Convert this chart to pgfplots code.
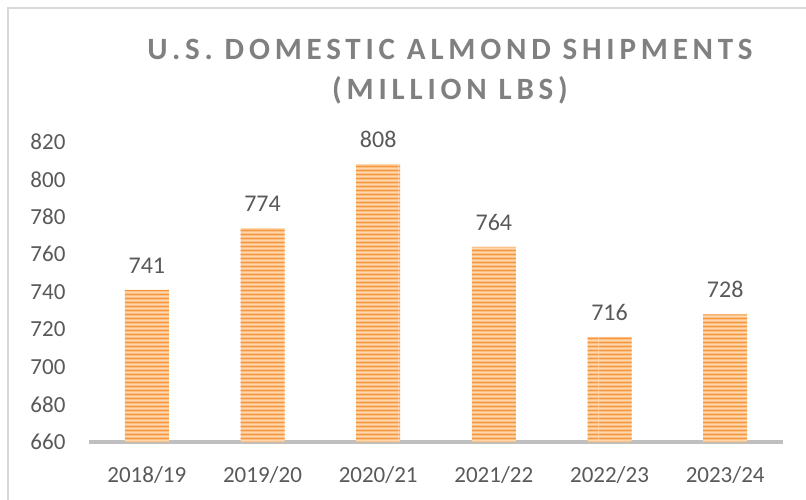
\documentclass[border=0pt]{standalone}
\usepackage{fontspec}
\setmainfont{Carlito}
\usepackage{pgfplots}
\pgfplotsset{compat=1.18}
\usetikzlibrary{patterns}
\pgfdeclarepatternformonly{hstripes}{\pgfpointorigin}{\pgfpoint{200pt}{4pt}}{\pgfpoint{200pt}{4pt}}{%
  \pgfpathrectangle{\pgfpoint{0pt}{0.9pt}}{\pgfpoint{200pt}{2.2pt}}\pgfusepath{fill}}
\definecolor{barDark}{HTML}{F7963B}
\definecolor{barLight}{HTML}{FCD7B0}
\definecolor{txt}{HTML}{595959}
\definecolor{ttl}{HTML}{808080}
\definecolor{axgray}{HTML}{BFBFBF}
\definecolor{frame}{HTML}{D9D9D9}
\begin{document}
\begin{tikzpicture}
\useasboundingbox (0,0) rectangle (806pt,499pt);
\draw[frame, line width=1.5pt] (8pt,-5pt) -- (8pt,491pt) -- (815pt,491pt);
\begin{axis}[
  at={(89pt,57pt)}, anchor=south west,
  scale only axis, width=694pt, height=300.3pt,
  xmin=-0.5, xmax=5.5, ymin=660, ymax=820,
  xtick=data,
  xticklabels={2018/19,2019/20,2020/21,2021/22,2022/23,2023/24},
  ytick={660,680,...,820},
  axis x line*=bottom, axis y line*=left,
  x axis line style={-, draw=axgray, line width=3.3pt},
  y axis line style={draw=none},
  major tick length=0pt,
  tick label style={font=\fontsize{23}{26}\selectfont, text=txt},
  /pgf/number format/assume math mode=true,
  yticklabel style={anchor=east, xshift=-20pt},
  xticklabel style={yshift=-21pt},
  clip=false,
  title={U.S. DOMESTIC ALMOND SHIPMENTS\\(MILLION LBS)},
  title style={at={(0.5,1)}, anchor=south, xshift=14pt, yshift=28pt, align=center,
    font=\fontsize{31}{40}\selectfont\bfseries\addfontfeature{LetterSpace=15.5}, text=ttl},
  nodes near coords,
  nodes near coords style={font=\fontsize{24}{26}\selectfont, text=txt, anchor=south, yshift=13pt},
]
\addplot[ybar, bar width=44pt, fill=barLight, draw=none,
  postaction={pattern=hstripes, pattern color=barDark}]
  coordinates {(0,741) (1,774) (2,808) (3,764) (4,716) (5,728)};
\end{axis}
\end{tikzpicture}
\end{document}
